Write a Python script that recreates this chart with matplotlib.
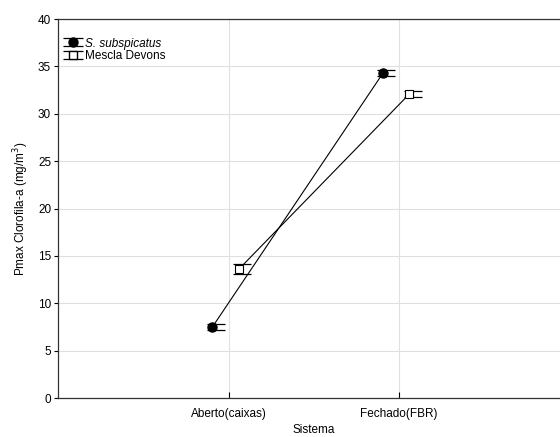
import matplotlib.pyplot as plt
import numpy as np
from matplotlib.container import ErrorbarContainer
from matplotlib.legend_handler import HandlerErrorbar

plt.rcParams['font.family'] = ['Liberation Sans', 'DejaVu Sans']

categories = ["Aberto(caixas)", "Fechado(FBR)"]
sub_mean = [7.5, 34.3]
sub_err = [0.35, 0.3]
mes_mean = [13.6, 32.1]
mes_err = [0.5, 0.3]

fig = plt.figure(figsize=(5.6, 4.37), dpi=100)
ax = fig.add_axes([0.1036, 0.0892, 0.914, 0.8673])

pos = np.arange(1, len(categories) + 1)

# series are drawn a bit apart from the category centre
x_sub = pos - 0.095
x_mes = pos + 0.06

ax.plot(x_sub, sub_mean, color="black", lw=0.8, zorder=3)
ax.plot(x_mes, mes_mean, color="black", lw=0.8, zorder=3)
ax.errorbar(x_sub + 0.02, sub_mean, yerr=sub_err, fmt="none", ecolor="black",
            elinewidth=0.8, capsize=6.5, capthick=0.9, zorder=3)
ax.errorbar(x_mes + 0.02, mes_mean, yerr=mes_err, fmt="none", ecolor="black",
            elinewidth=0.8, capsize=6.5, capthick=0.9, zorder=3)
ax.plot(x_sub, sub_mean, "o", color="black", ms=6.5, zorder=4)
ax.plot(x_mes, mes_mean, "s", mfc="white", mec="black", mew=0.8, ms=6, zorder=4)

# legend handles (nan points, only shown in the legend)
h1 = ax.errorbar([np.nan], [np.nan], yerr=[1], fmt="o", color="black", ms=6.5,
                 capsize=7, elinewidth=0.8, capthick=0.9)
h2 = ax.errorbar([np.nan], [np.nan], yerr=[1], fmt="s", mfc="white", mec="black",
                 ecolor="black", ms=6, capsize=7, elinewidth=0.8, capthick=0.9)
leg = ax.legend([h1, h2], ["S. subspicatus", "Mescla Devons"], loc="upper left",
                bbox_to_anchor=(-0.005, 0.976), frameon=False, fontsize=8.5,
                handlelength=1.3, handletextpad=0.4, labelspacing=0.05, borderpad=0.3,
                handler_map={ErrorbarContainer: HandlerErrorbar(yerr_size=0.34)})
leg.get_texts()[0].set_fontstyle("italic")

ax.set_xlim(0, 3)
ax.set_ylim(0, 40)
ax.set_xticks(pos)
ax.set_xticklabels(categories)
ax.set_yticks(np.arange(0, 41, 5))
ax.grid(True, color="#e0e0e0", lw=0.8)
ax.set_axisbelow(True)
ax.tick_params(axis="x", direction="in", length=4, labelsize=8.5, pad=7)
ax.tick_params(axis="y", direction="out", length=3, labelsize=8.5, pad=2)
for s in ax.spines.values():
    s.set_color("#333333")
    s.set_linewidth(0.9)

ax.set_xlabel("Sistema", fontsize=8.5, labelpad=3)
ax.set_ylabel("Pmax Clorofila-a (mg/m$^3$)", fontsize=8.5, labelpad=5)

fig.savefig("out.png", dpi=100)
